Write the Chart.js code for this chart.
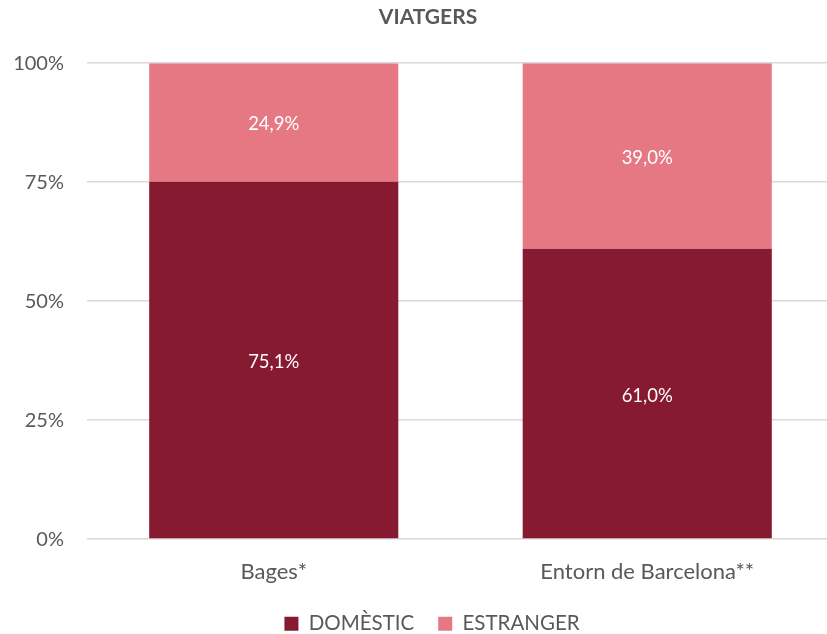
<!DOCTYPE html>
<html lang="ca">
<head>
  <meta charset="UTF-8" />
  <script src="https://cdn.jsdelivr.net/npm/chart.js"></script>
  <style>
    html, body { margin: 0; padding: 0; background: #fff; overflow: hidden; }
    canvas { display: block; }
  </style>
</head>
<body>
  <canvas id="viatgersChart" width="834" height="644"></canvas>

  <script>
    const categories = ['Bages*', 'Entorn de Barcelona**'];
    const domestic = [75.1, 61.0];
    const foreign = [24.9, 39.0];
    const yTicks = [0, 25, 50, 75, 100];

    const textGrey = '#595959';
    const fontFam = 'Lato, "Open Sans", sans-serif';

    // white % labels in the middle of each segment
    const segmentLabels = {
      id: 'segmentLabels',
      afterDatasetsDraw(chart) {
        const ctx = chart.ctx;
        ctx.save();
        ctx.fillStyle = '#ffffff';
        ctx.font = '18.5px ' + fontFam;
        ctx.textAlign = 'center';
        ctx.textBaseline = 'middle';
        chart.data.datasets.forEach((ds, i) => {
          chart.getDatasetMeta(i).data.forEach((bar, j) => {
            const mid = (bar.y + bar.base) / 2 + 2;
            ctx.fillText(ds.data[j].toFixed(1).replace('.', ',') + '%', bar.x, mid);
          });
        });
        ctx.restore();
      }
    };

    // nudge title and legend to the right like in the original
    const nudge = {
      id: 'nudge',
      afterLayout(chart) {
        chart.titleBlock.left += 11;
        chart.titleBlock.right += 11;
        chart.legend.left += 15;
        chart.legend.right += 15;
      }
    };

    new Chart(document.getElementById('viatgersChart'), {
      type: 'bar',
      data: {
        labels: categories,
        datasets: [
          { label: 'DOMÈSTIC', data: domestic, backgroundColor: '#861A31', barPercentage: 0.667, categoryPercentage: 1 },
          { label: 'ESTRANGER', data: foreign, backgroundColor: '#E57883', barPercentage: 0.667, categoryPercentage: 1 },
        ],
      },
      options: {
        responsive: false,
        animation: false,
        layout: { padding: 0 },
        scales: {
          x: {
            stacked: true,
            grid: { display: false },
            border: { display: false },
            afterFit: axis => { axis.height -= 8; },
            ticks: { color: textGrey, font: { family: fontFam, size: 22 }, padding: 12 },
          },
          y: {
            stacked: true,
            min: 0,
            max: 100,
            afterBuildTicks: axis => { axis.ticks = yTicks.map(v => ({ value: v })); },
            afterFit: axis => { axis.width = 87; },
            grid: { color: '#D9D9D9', lineWidth: 1.5, drawTicks: false },
            border: { display: false },
            ticks: { color: textGrey, font: { family: fontFam, size: 20 }, padding: 23, callback: v => v + '%' },
          },
        },
        plugins: {
          title: {
            display: true,
            text: 'VIATGERS',
            color: textGrey,
            font: { family: fontFam, size: 21, weight: 'bold' },
            padding: { top: 5, bottom: 33 },
          },
          legend: {
            position: 'bottom',
            labels: {
              color: textGrey,
              font: { family: fontFam, size: 20.5 },
              boxWidth: 14,
              boxHeight: 14,
              padding: 24,
            },
          },
          tooltip: { enabled: false },
        },
      },
      plugins: [segmentLabels, nudge],
    });
  </script>
</body>
</html>
